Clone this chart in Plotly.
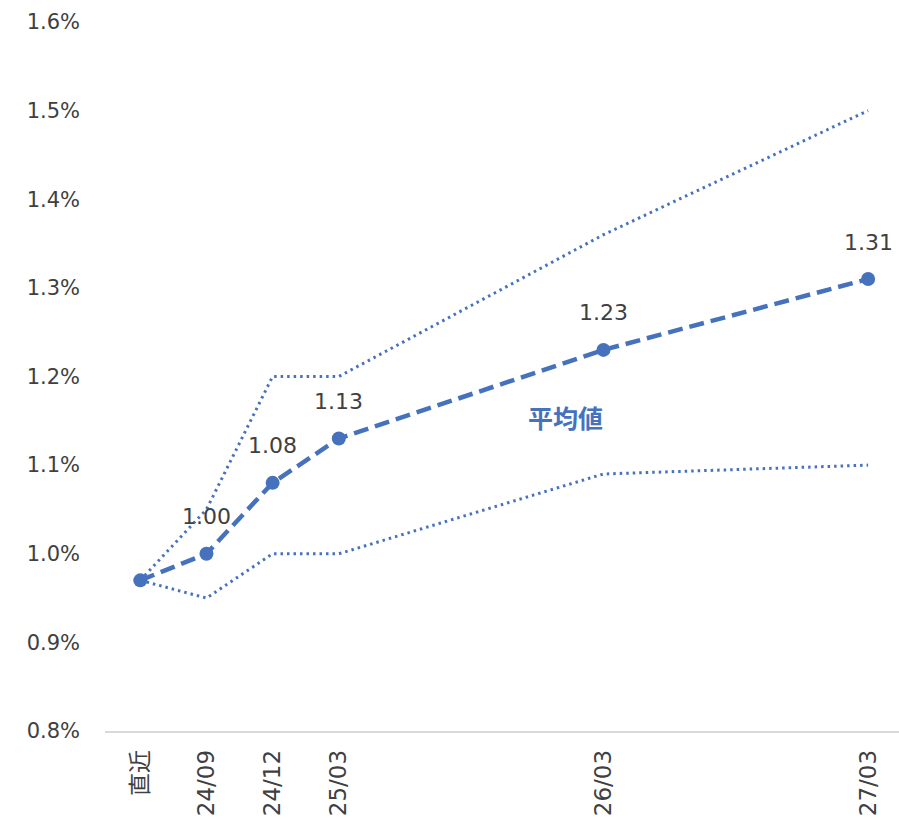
import plotly.graph_objects as go

# Horizon in months from the latest observation (直近 = 2024/06)
months = [0, 3, 6, 9, 21, 33]
tick_labels = ["直近", "24/09", "24/12", "25/03", "26/03", "27/03"]

mean_vals = [0.97, 1.00, 1.08, 1.13, 1.23, 1.31]
upper_vals = [0.97, 1.05, 1.20, 1.20, 1.36, 1.50]
lower_vals = [0.97, 0.95, 1.00, 1.00, 1.09, 1.10]

BLUE = "#4672bd"
TEXT = "#404040"
FONT = "DejaVu Sans, Noto Sans CJK JP"

fig = go.Figure()

for vals in (upper_vals, lower_vals):
    fig.add_trace(go.Scatter(
        x=months, y=vals, mode="lines",
        line=dict(color=BLUE, width=3, dash="2.5px,4px"),
        hoverinfo="skip", showlegend=False,
    ))

fig.add_trace(go.Scatter(
    x=months, y=mean_vals, mode="lines+markers",
    line=dict(color=BLUE, width=4.5, dash="15px,7px"),
    marker=dict(color=BLUE, size=14),
    showlegend=False,
))

# value labels above each forecast point (not the latest observation)
for m, v in zip(months[1:], mean_vals[1:]):
    fig.add_annotation(
        x=m, y=v, text=f"{v:.2f}", showarrow=False,
        yshift=37, font=dict(family=FONT, size=22, color=TEXT),
    )

fig.add_annotation(
    x=19.27, y=1.154, text="<b>平均値</b>", showarrow=False,
    font=dict(family="Noto Sans CJK JP", size=25, color=BLUE),
)

fig.update_layout(
    width=899, height=819,
    margin=dict(l=105, r=0, t=22, b=88, autoexpand=False),
    paper_bgcolor="white", plot_bgcolor="white",
    font=dict(family=FONT, color=TEXT),
)

fig.update_xaxes(
    range=[-1.6, 34.4],
    tickmode="array", tickvals=months, ticktext=tick_labels,
    tickangle=-90, tickfont=dict(family=FONT, size=23, color=TEXT),
    showgrid=False, zeroline=False,
    showline=True, linecolor="#d9d9d9", linewidth=1.5,
    ticks="", ticklabelstandoff=8, automargin=False,
)

fig.update_yaxes(
    range=[0.8, 1.6], dtick=0.1, tick0=0.8,
    tickformat=".1f", ticksuffix="%",
    tickfont=dict(family=FONT, size=21, color=TEXT),
    showgrid=False, zeroline=False, showline=False,
    ticks="", ticklabelstandoff=24, automargin=False,
)

fig.write_html("out.html")
